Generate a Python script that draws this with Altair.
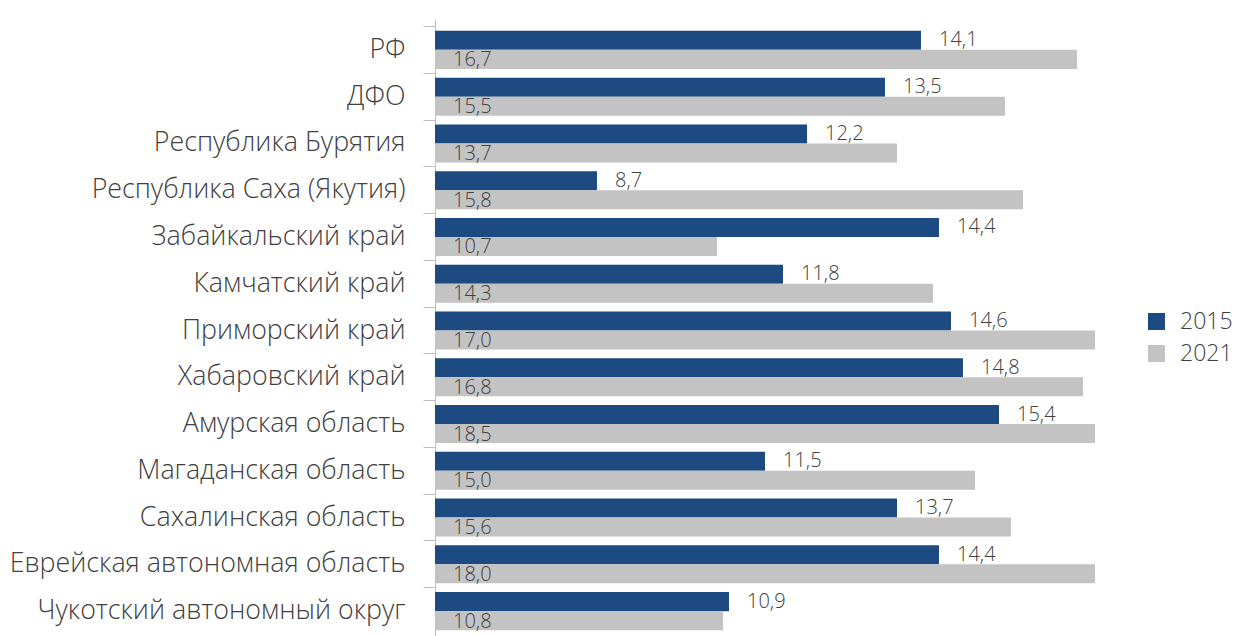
import altair as alt
import pandas as pd

categories = ["РФ", "ДФО", "Республика Бурятия", "Республика Саха (Якутия)",
              "Забайкальский край", "Камчатский край", "Приморский край",
              "Хабаровский край", "Амурская область", "Магаданская область",
              "Сахалинская область", "Еврейская автономная область",
              "Чукотский автономный округ"]
v2015 = [14.1, 13.5, 12.2, 8.7, 14.4, 11.8, 14.6, 14.8, 15.4, 11.5, 13.7, 14.4, 10.9]
v2021 = [16.7, 15.5, 13.7, 15.8, 10.7, 14.3, 17.0, 16.8, 18.5, 15.0, 15.6, 18.0, 10.8]
series = ["2015", "2021"]

rows = []
for c, a, b in zip(categories, v2015, v2021):
    rows.append({"cat": c, "series": series[0], "value": a})
    rows.append({"cat": c, "series": series[1], "value": b})
df = pd.DataFrame(rows)
df["label"] = df["value"].map(lambda v: f"{v:.1f}".replace(".", ","))

FONT = "Open Sans"
TXT = "#404040"

y_enc = alt.Y("cat:N", sort=categories, title=None,
              scale=alt.Scale(paddingInner=0, paddingOuter=0.16),
              axis=alt.Axis(labelFontSize=26.8, labelColor=TXT, labelFont=FONT,
                            labelFontWeight=300, labelLimit=600, labelPadding=18,
                            domainColor="#BFBFBF", tickColor="#BFBFBF", tickSize=12,
                            bandPosition=0, domainWidth=1, tickWidth=1))
yoff = alt.YOffset("series:N", sort=series,
                   scale=alt.Scale(paddingInner=0, paddingOuter=0.23))
x_scale = alt.Scale(domain=[6, 17], nice=False, zero=False)

bars = alt.Chart(df).mark_bar(clip=True).encode(
    y=y_enc,
    yOffset=yoff,
    x=alt.X("value:Q", scale=x_scale, axis=None),
    color=alt.Color("series:N", sort=series,
                    scale=alt.Scale(domain=series, range=["#1D4A80", "#C3C3C3"]),
                    legend=alt.Legend(title=None, orient="none", legendX=705, legendY=286,
                                      padding=5,
                                      symbolType="square", symbolSize=289,
                                      symbolStrokeWidth=0, labelFontSize=23,
                                      labelFont=FONT, labelFontWeight=300,
                                      labelColor=TXT, labelOffset=12, rowPadding=8)),
)

lab15 = alt.Chart(df).transform_filter(alt.datum.series == "2015").mark_text(
    align="left", baseline="middle", dx=18, fontSize=20, font=FONT,
    fontWeight=300, color=TXT
).encode(
    y=alt.Y("cat:N", sort=categories),
    yOffset=yoff,
    x=alt.X("value:Q", scale=x_scale),
    text="label:N",
)

lab21 = alt.Chart(df).transform_filter(alt.datum.series == "2021").mark_text(
    align="left", baseline="middle", dy=1, fontSize=20, font=FONT,
    fontWeight=300, color=TXT
).encode(
    y=alt.Y("cat:N", sort=categories),
    yOffset=yoff,
    x=alt.value(18),
    text="label:N",
)

chart = alt.layer(bars, lab15, lab21).properties(
    width=660, height=623, autosize="none",
    padding={"left": 427, "top": 11, "right": 140, "bottom": 0},
).configure(font=FONT, view=alt.ViewConfig(stroke=None))

chart.save("out.html", embed_options={"renderer": "svg", "actions": False})
